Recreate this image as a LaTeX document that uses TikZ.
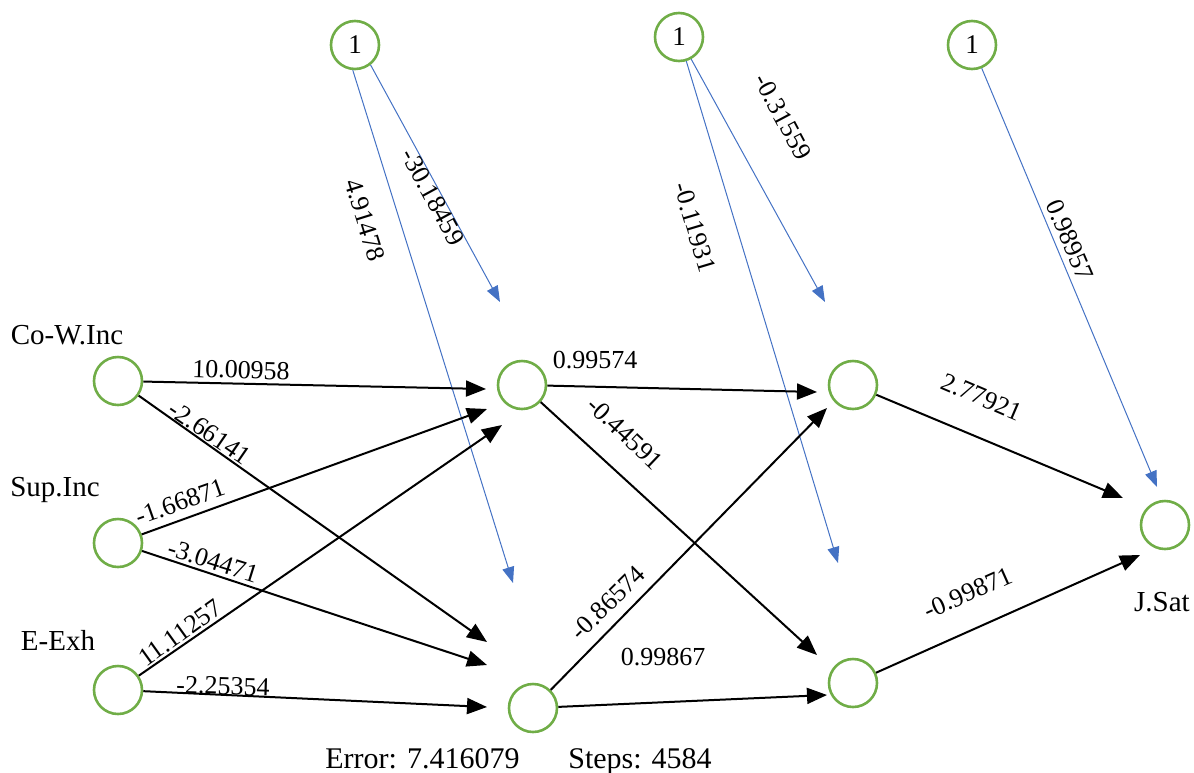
\documentclass[tikz,border=0pt]{standalone}
\usepackage{fontspec}
\setmainfont{Liberation Serif}
\usetikzlibrary{arrows.meta}
\definecolor{ngreen}{HTML}{70AD47}
\definecolor{nblue}{HTML}{4472C4}
\begin{document}
\begin{tikzpicture}[x=0.5pt,y=-0.5pt,
  neuron/.style={circle,draw=ngreen,line width=1.3pt,minimum size=24pt,inner sep=0pt,font=\fontsize{13.5}{15}\selectfont},
  wt/.style={font=\fontsize{13}{15}\selectfont,inner sep=0pt},
  lbl/.style={font=\fontsize{14.5}{17}\selectfont,inner sep=0pt},
  captext/.style={font=\fontsize{15}{18}\selectfont,inner sep=0pt},
  conn/.style={black,line width=1pt,-{Triangle[length=10pt,width=8pt]}},
  bias/.style={nblue,line width=0.5pt,-{Triangle[length=8pt,width=6pt]}}]

\useasboundingbox (0,0) rectangle (1194,772);

% neurons
\node[neuron] (cw) at (118,381) {};
\node[neuron] (su) at (118,543) {};
\node[neuron] (ee) at (118,690) {};
\node[neuron] (h1a) at (522,385) {};
\node[neuron] (h1b) at (533,708) {};
\node[neuron] (h2a) at (853,385) {};
\node[neuron] (h2b) at (853,683) {};
\node[neuron] (out) at (1165,525) {};
\node[neuron] (b1) at (355,45) {1};
\node[neuron] (b2) at (679,37) {\raisebox{-3pt}{1}};
\node[neuron] (b3) at (972,45) {1};

% node labels
\node[lbl] (lcw) at (67,335) {Co-W.Inc};
\node[lbl] (lsu) at (55,490) {Sup.Inc};
\node[lbl] (lee) at (58,640) {E-Exh};
\node[lbl] (lout) at (1162,602) {J.Sat};

% arrow tips
\coordinate (t1) at (486,389);
\coordinate (t2) at (487,409);
\coordinate (t3) at (502,425);
\coordinate (t4) at (487,642);
\coordinate (t5) at (487,665);
\coordinate (t6) at (487,707);
\coordinate (t7) at (817,392);
\coordinate (t8) at (827,408);
\coordinate (t9) at (817,655);
\coordinate (t10) at (827,695);
\coordinate (t11) at (1123,498);
\coordinate (t12) at (1140,555);
\coordinate (u1) at (500,302);
\coordinate (u2) at (513,583);
\coordinate (u3) at (825,302);
\coordinate (u4) at (838,563);
\coordinate (u5) at (1157,487);

% bias connectors
\draw[bias] (b1.-52) -- (u1);
\draw[bias] (b1.-95) -- (u2);
\draw[bias] (b2) -- (u3);
\draw[bias] (b2) -- (u4);
\draw[bias] (b3) -- (u5);

% weight connectors
\draw[conn] (cw) -- (t1);
\draw[conn] (cw) -- (t4);
\draw[conn] (su) -- (t2);
\draw[conn] (su) -- (t5);
\draw[conn] (ee) -- (t3);
\draw[conn] (ee) -- (t6);
\draw[conn] (h1a) -- (t7);
\draw[conn] (h1a) -- (t9);
\draw[conn] (h1b) -- (t8);
\draw[conn] (h1b) -- (t10);
\draw[conn] (h2a) -- (t11);
\draw[conn] (h2b) -- (t12);

% weight labels
\node[wt,rotate=-1.7] (w1) at (241,370) {10.00958};
\node[wt,rotate=-34.5] (w2) at (210,433) {-2.66141};
\node[wt,rotate=19.5] (w3) at (180,502) {-1.66871};
\node[wt,rotate=-17.4] (w4) at (213,561) {-3.04471};
\node[wt,rotate=35.7] (w5) at (180,633) {11.11257};
\node[wt,rotate=-1.7] (w6) at (223,686) {-2.25354};
\node[wt,rotate=-61.4] (w7) at (433,197) {-30.18459};
\node[wt,rotate=-72.7] (w8) at (365,220) {4.91478};
\node[wt,rotate=-62] (w9) at (783,117) {-0.31559};
\node[wt,rotate=-73.3] (w10) at (695,227) {-0.11931};
\node[wt,rotate=-66.6] (w11) at (1070,240) {0.98957};
\node[wt] (w12) at (595,360) {0.99574};
\node[wt,rotate=-43.5] (w13) at (625,433) {-0.44591};
\node[wt,rotate=44.5] (w14) at (608,603) {-0.86574};
\node[wt] (w15) at (663,657) {0.99867};
\node[wt,rotate=-23.2] (w16) at (982,397) {2.77921};
\node[wt,rotate=24] (w17) at (968,593) {-0.99871};

% caption
\node[captext,anchor=base west] (err) at (325,768) {Error: 7.416079};
\node[captext,anchor=base west] (steps) at (568,768) {Steps: 4584};
\end{tikzpicture}
\end{document}
